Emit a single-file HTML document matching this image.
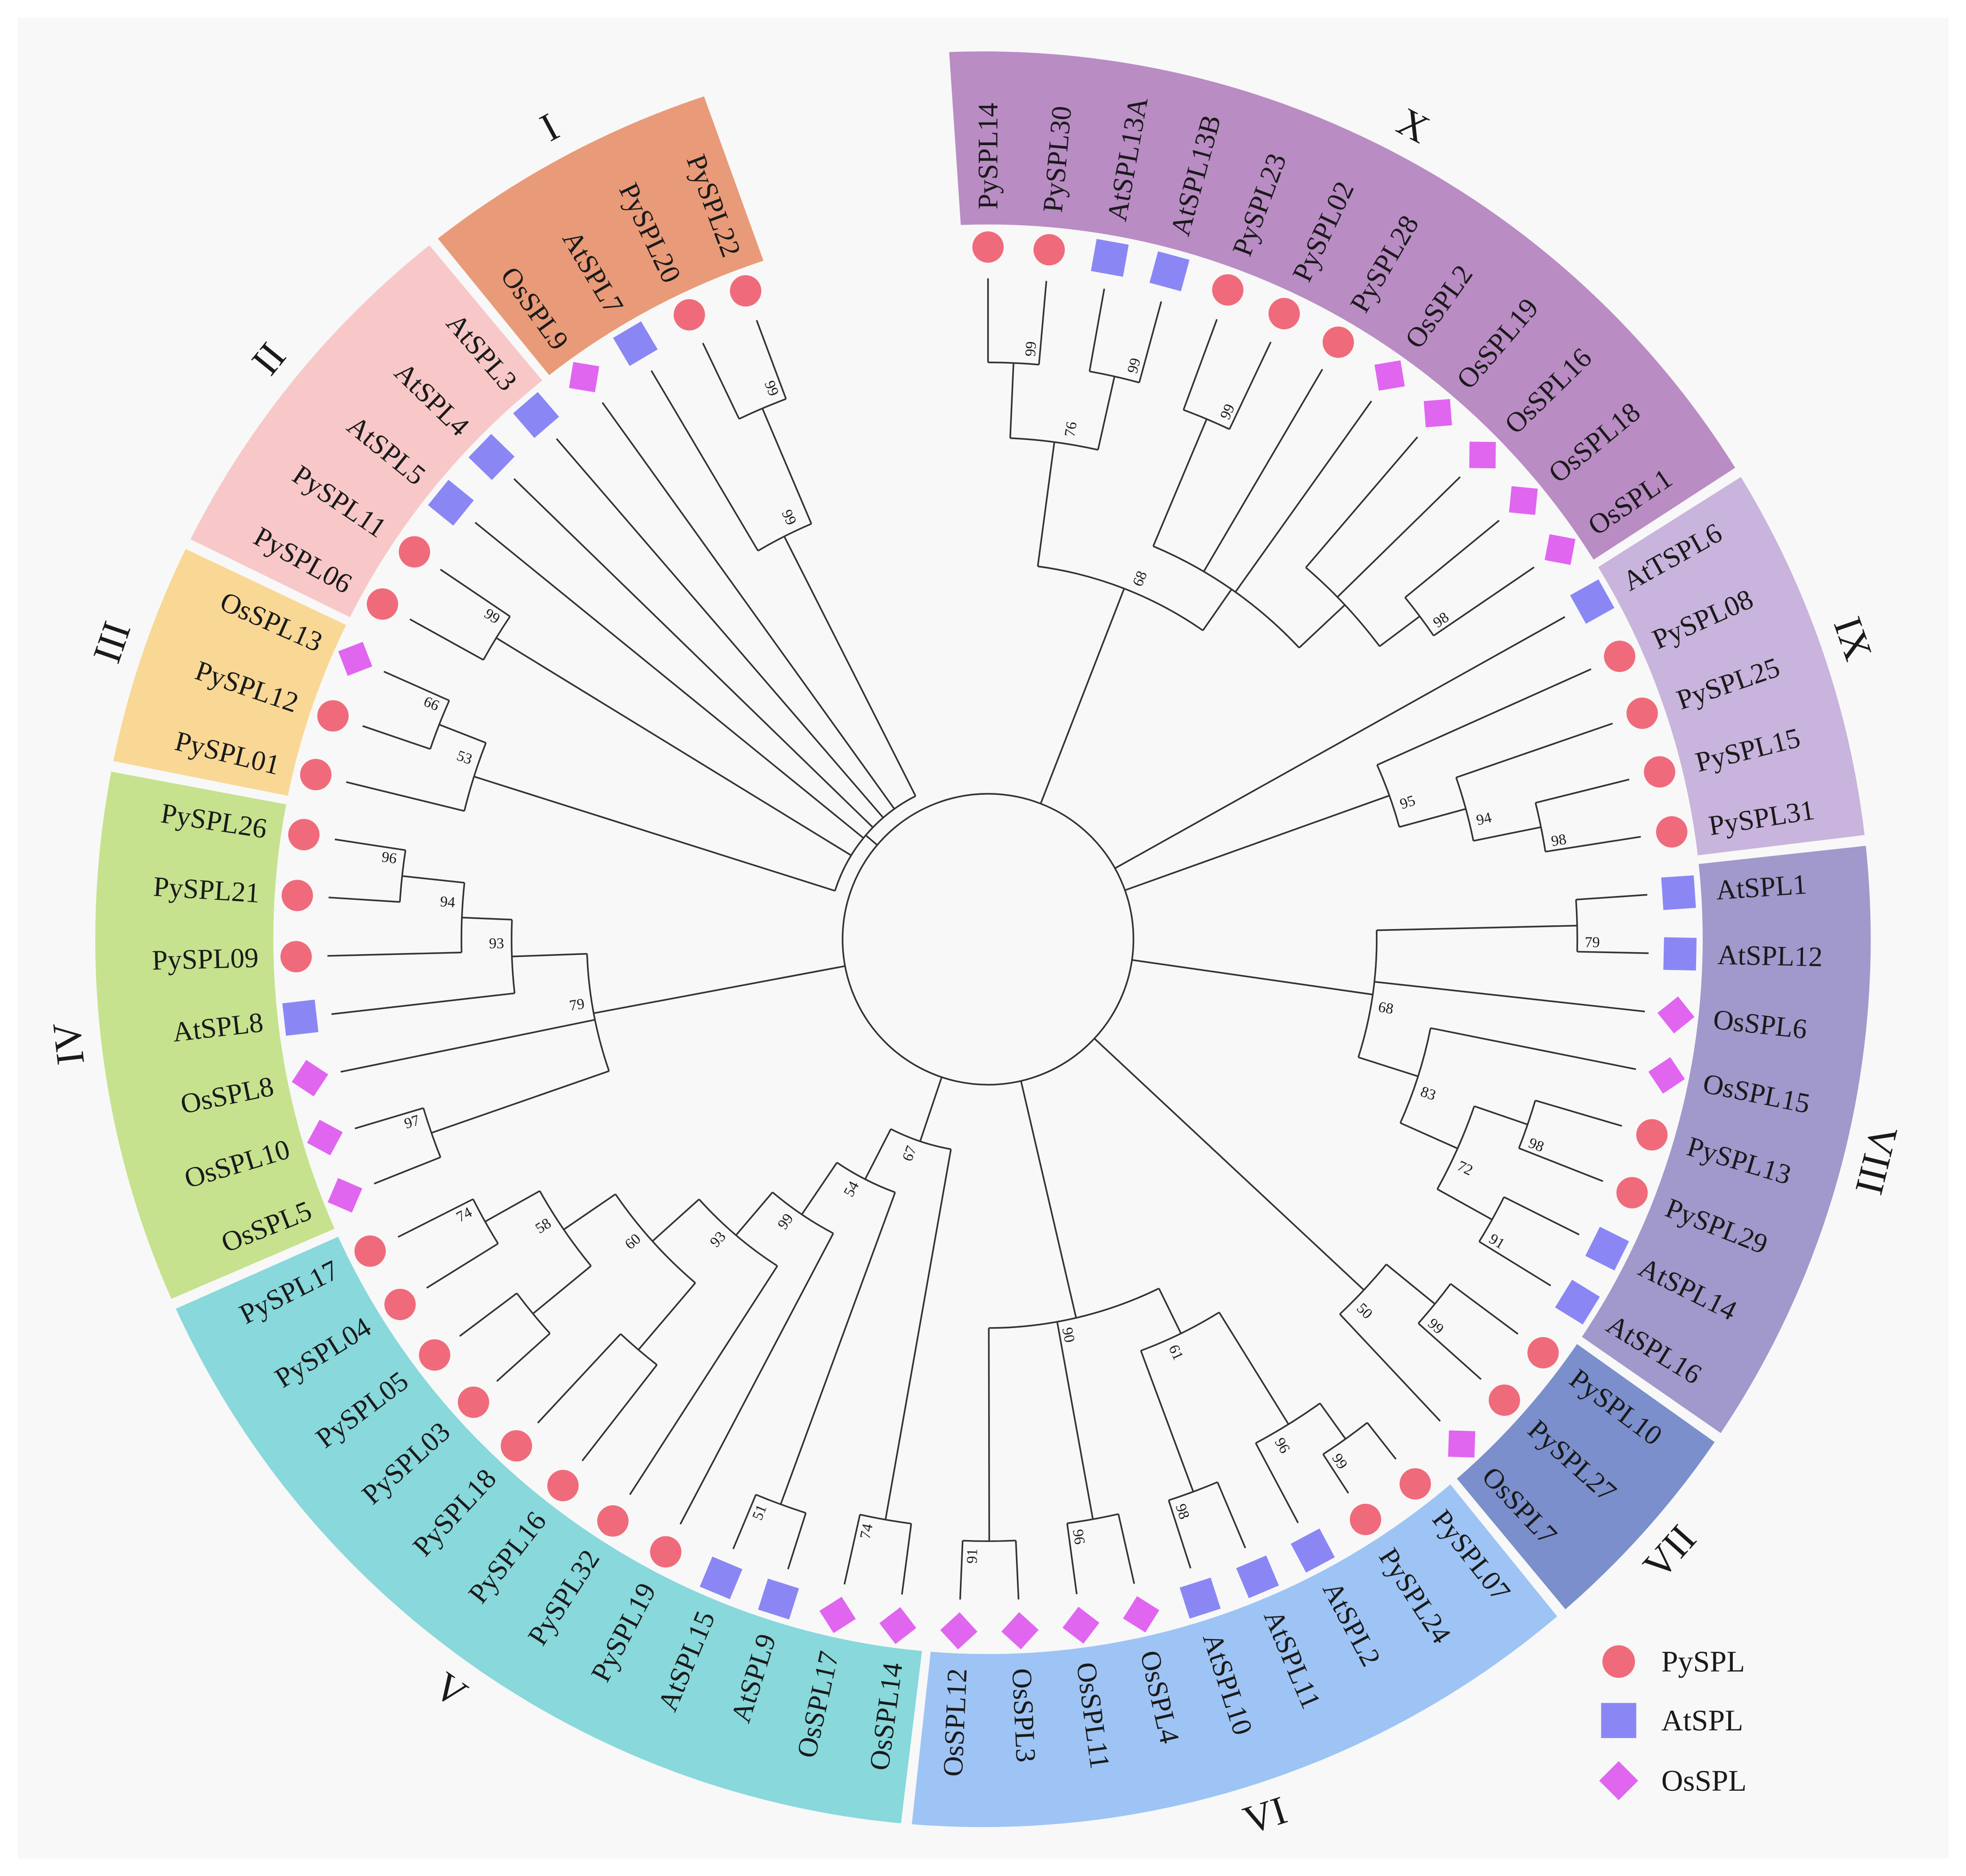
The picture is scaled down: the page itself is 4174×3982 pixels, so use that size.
<!DOCTYPE html>
<html><head><meta charset="utf-8"><style>
html,body{margin:0;padding:0;background:#fff;}
svg{display:block;}
text{font-family:"Liberation Serif",serif;fill:#1a1a1a;}
</style></head><body>
<svg id="s" xmlns="http://www.w3.org/2000/svg" width="4174" height="3982" viewBox="0 0 1568 1496" preserveAspectRatio="none">
<rect x="0" y="0" width="1568" height="1496" fill="#ffffff"/>
<rect x="14" y="14" width="1540" height="1468" fill="#f8f8f8"/>
<g id="wedges"></g><g id="tree" fill="none" stroke="#333" stroke-width="1.3"></g><g id="marks"></g><g id="labels"></g>
<g id="legend">
<circle cx="1291" cy="1325" r="13" fill="#ef6b7b"/><text x="1325" y="1333" font-size="24">PySPL</text>
<rect x="1277" y="1358" width="28" height="28" fill="#8a87f5"/><text x="1325" y="1380" font-size="24">AtSPL</text>
<rect x="1280" y="1409" width="22" height="22" fill="#e066f0" transform="rotate(45 1291 1420)"/><text x="1325" y="1428" font-size="24">OsSPL</text>
</g>
</svg>
<script>
var names=["PySPL14","PySPL30","AtSPL13A","AtSPL13B","PySPL23","PySPL02","PySPL28","OsSPL2","OsSPL19","OsSPL16","OsSPL18","OsSPL1",
"AtTSPL6","PySPL08","PySPL25","PySPL15","PySPL31",
"AtSPL1","AtSPL12","OsSPL6","OsSPL15","PySPL13","PySPL29","AtSPL14","AtSPL16",
"PySPL10","PySPL27","OsSPL7",
"PySPL07","PySPL24","AtSPL2","AtSPL11","AtSPL10","OsSPL4","OsSPL11","OsSPL3","OsSPL12",
"OsSPL14","OsSPL17","AtSPL9","AtSPL15","PySPL19","PySPL32","PySPL16","PySPL18","PySPL03","PySPL05","PySPL04","PySPL17",
"OsSPL5","OsSPL10","OsSPL8","AtSPL8","PySPL09","PySPL21","PySPL26",
"PySPL01","PySPL12","OsSPL13",
"PySPL06","PySPL11","AtSPL5","AtSPL4","AtSPL3",
"OsSPL9","AtSPL7","PySPL20","PySPL22"];
var CX=788,CY=749,STEP=339.5/67,NS="http://www.w3.org/2000/svg";
var RCX=784;
function ang(i){return i*STEP;}
function P(r,t){var a=t*Math.PI/180;return [CX+r*Math.sin(a),CY-r*Math.cos(a)];}
function PR(r,t){var a=t*Math.PI/180;return [RCX+r*Math.sin(a),CY-r*Math.cos(a)];}
function el(p,tag,at,txt){var e=document.createElementNS(NS,tag);for(var k in at)e.setAttribute(k,at[k]);if(txt!==undefined)e.textContent=txt;document.getElementById(p).appendChild(e);return e;}
function arcPath(r,a1,a2){var p1=P(r,a1),p2=P(r,a2);return "M"+p1[0]+" "+p1[1]+" A"+r+" "+r+" 0 "+((a2-a1)>180?1:0)+" 1 "+p2[0]+" "+p2[1];}
var clades=[["X",0,11,"#b98cc4"],["IX",12,16,"#c8b4dc"],["VIII",17,24,"#a198cc"],["VII",25,27,"#7b8fcc"],["VI",28,36,"#9dc4f4"],["V",37,48,"#88d8dc"],["IV",49,55,"#c6e28e"],["III",56,58,"#f9d896"],["II",59,63,"#f8c8c8"],["I",64,67,"#e99a78"]];
var R1=570,R2=708;
clades.forEach(function(c){
 var a1=ang(c[1])-STEP/2+0.35,a2=ang(c[2])+STEP/2-0.35;
 var p1=PR(R2,a1),p2=PR(R2,a2),p3=P(R1,a2),p4=P(R1,a1);
 var big=(a2-a1)>180?1:0;
 el("wedges","path",{d:"M"+p1+" A"+R2+" "+R2+" 0 "+big+" 1 "+p2+" L"+p3+" A"+R1+" "+R1+" 0 "+big+" 0 "+p4+" Z",fill:c[3]});
 var m=(ang(c[1])+ang(c[2]))/2,q=PR(734,m),rot;
 if(m<=110)rot=m;else if(m<250)rot=m-180;else rot=m-360;
 el("labels","text",{x:q[0],y:q[1],"font-size":32,"text-anchor":"middle","dominant-baseline":"central",transform:"rotate("+rot+" "+q[0]+" "+q[1]+")"},c[0]);
});
names.forEach(function(n,i){
 var t=ang(i),m=P(552,t);
 var col=n.slice(0,2);
 if(col=="Py")el("marks","circle",{cx:m[0],cy:m[1],r:12.5,fill:"#ef6b7b"});
 else if(col=="At")el("marks","rect",{x:m[0]-13,y:m[1]-13,width:26,height:26,fill:"#8a87f5",transform:"rotate("+t+" "+m[0]+" "+m[1]+")"});
 else el("marks","rect",{x:m[0]-10.5,y:m[1]-10.5,width:21,height:21,fill:"#e066f0",transform:"rotate("+(t+45)+" "+m[0]+" "+m[1]+")"});
 var q=P(582,t),rot,anc;
 if(t<=180){rot=t-90;anc="start";}else{rot=t-270;anc="end";}
 el("labels","text",{x:q[0],y:q[1],"font-size":22.5,"text-anchor":anc,"dominant-baseline":"central",transform:"rotate("+rot+" "+q[0]+" "+q[1]+")"},n);
});
function N(r,b,c){return {r:r,b:b,c:c};}
var root=[
 N(300,"68",[N(400,"76",[N(460,"99",[0,1]),N(460,"99",[2,3])]),N(340,"",[N(450,"99",[4,5]),6,7,N(390,"",[8,9,N(430,"98",[10,11])])])]),
 12,
 N(340,"95",[13,N(395,"94",[14,N(450,"98",[15,16])])]),
 N(310,"68",[N(470,"79",[17,18]),19,N(360,"83",[20,N(410,"72",[N(455,"98",[21,22]),N(460,"91",[23,24])])])]),
 N(410,"50",[N(460,"99",[25,26]),27]),
 N(310,"90",[N(350,"61",[N(455,"96",[N(490,"99",[28,29]),30]),N(470,"98",[31,32])]),N(470,"96",[33,34]),N(480,"91",[35,36])].reverse()),
 N(170,"67",[N(215,"54",[N(265,"99",[N(310,"93",[N(360,"60",[N(410,"58",[N(460,"74",[47,48]),N(470,"",[45,46])]),N(430,"",[43,44])]),42]),41]),N(480,"51",[39,40])]),N(470,"74",[37,38])]),
 N(320,"79",[N(380,"93",[N(420,"94",[N(470,"96",[54,55]),53]),52]),51,N(470,"97",[49,50])]),
 N(128,"",[N(430,"53",[N(470,"66",[57,58]),56]),N(460,"99",[59,60]),61,62,63,64,N(360,"99",[65,N(460,"99",[66,67])])])
];
var TIP=527;
function info(n){ if(typeof n=="number")return {r:TIP,a:ang(n)};
 var ch=n.c.map(info);var as=ch.map(function(x){return x.a});
 var a1=Math.min.apply(null,as),a2=Math.max.apply(null,as);
 n._a=(a1+a2)/2;
 el("tree","path",{d:arcPath(n.r,a1,a2)});
 ch.forEach(function(x){var p=P(n.r,x.a),q=P(x.r,x.a);el("tree","line",{x1:p[0],y1:p[1],x2:q[0],y2:q[1]});});
 if(n.b){var t=n._a+1.6,q=P(n.r+12,t);var rot=(t<=180)?t-90:t-270;
  el("labels","text",{x:q[0],y:q[1],"font-size":12,"text-anchor":"middle","dominant-baseline":"central",transform:"rotate("+rot+" "+q[0]+" "+q[1]+")"},n.b);}
 return {r:n.r,a:n._a};}
el("tree","circle",{cx:CX,cy:CY,r:116});
root.forEach(function(n){var x=info(n);var p=P(116,x.a),q=P(x.r,x.a);el("tree","line",{x1:p[0],y1:p[1],x2:q[0],y2:q[1]});});
</script>
</body></html>
